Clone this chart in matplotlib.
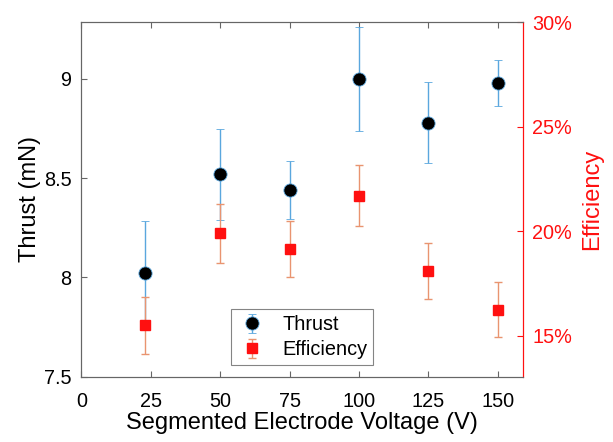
import numpy as np
import matplotlib.pyplot as plt
from matplotlib.ticker import FuncFormatter

plt.rcParams['font.family'] = ['Liberation Sans', 'DejaVu Sans']

# data
voltage = [23, 50, 75, 100, 125, 150]
thrust = [8.02, 8.52, 8.44, 9.00, 8.78, 8.98]
thrust_err = [0.265, 0.23, 0.145, 0.26, 0.205, 0.115]
efficiency = [15.5, 19.9, 19.15, 21.7, 18.1, 16.25]
efficiency_err = [1.36, 1.41, 1.32, 1.45, 1.32, 1.31]

AX_GRAY = '#666666'
BLUE = '#5AA7DE'
ORANGE = '#E99470'
RED = '#FF1010'

fig = plt.figure(figsize=(6.13, 4.42), dpi=100)
ax = fig.add_axes([0.1326, 0.1477, 0.8527 - 0.1326, 0.950 - 0.1477])
ax2 = ax.twinx()

h1 = ax.errorbar(voltage, thrust, yerr=thrust_err, fmt='o', color='black',
                 mfc='black', mec=BLUE, mew=0.6, ms=9.5, ecolor=BLUE,
                 elinewidth=1.0, capsize=3, capthick=1.0, label='Thrust')
h2 = ax2.errorbar(voltage, efficiency, yerr=efficiency_err, fmt='s',
                  mfc=RED, mec=RED, ms=7, ecolor=ORANGE, elinewidth=1.0,
                  capsize=3, capthick=1.0, label='Efficiency')

ax.set_xlim(0, 159)
ax.set_ylim(7.5, 9.286)
ax2.set_ylim(13.04, 30)

ax.set_xticks([0, 25, 50, 75, 100, 125, 150])
ax.set_yticks([7.5, 8, 8.5, 9])
ax.set_yticklabels(['7.5', '8', '8.5', '9'])
ax2.set_yticks([15, 20, 25, 30])
ax2.yaxis.set_major_formatter(FuncFormatter(lambda v, p: f'{v:.0f}%'))

ax.tick_params(axis='both', direction='in', length=4, width=0.8, color=AX_GRAY,
               labelsize=14.3, top=True, right=False)
ax.tick_params(axis='x', pad=11)
ax.tick_params(axis='y', pad=7)
ax2.tick_params(axis='y', direction='in', length=4, width=0.8, colors=RED,
                labelsize=14.3, pad=7)

for side in ['left', 'top', 'bottom']:
    ax.spines[side].set_color(AX_GRAY)
    ax2.spines[side].set_color(AX_GRAY)
ax2.spines['right'].set_color(RED)
ax.spines['right'].set_color(RED)

ax.set_xlabel('Segmented Electrode Voltage (V)', fontsize=17, labelpad=1)
ax.set_ylabel('Thrust (mN)', fontsize=17, labelpad=2)
ax2.set_ylabel('Efficiency', fontsize=17, color=RED, labelpad=6)

leg = ax2.legend([h1, h2], ['Thrust', 'Efficiency'], loc='lower center',
                 bbox_to_anchor=(0.5, 0.004), fontsize=14.3, frameon=True,
                 fancybox=False, edgecolor=AX_GRAY, handletextpad=0.7,
                 borderpad=0.3, labelspacing=0.3, handlelength=1.6)
leg.get_frame().set_linewidth(0.8)

fig.savefig('out.png', dpi=100)
